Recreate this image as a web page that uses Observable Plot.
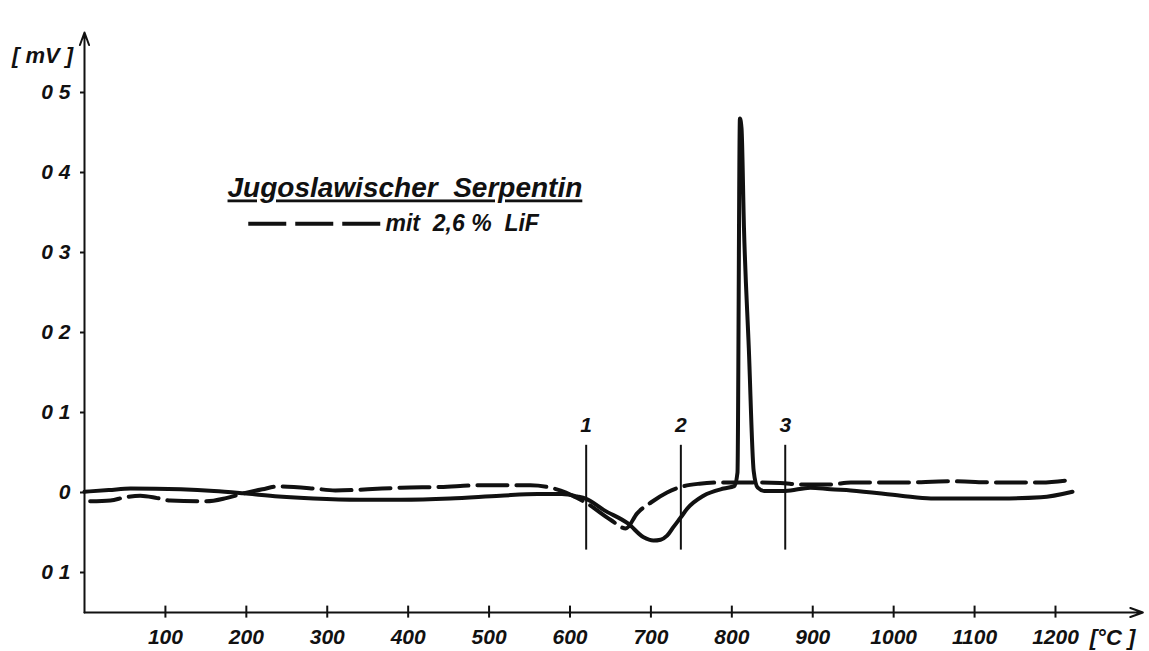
<!DOCTYPE html>
<html><head><meta charset="utf-8">
<script src="https://cdn.jsdelivr.net/npm/d3@7"></script>
<script src="https://cdn.jsdelivr.net/npm/@observablehq/plot@0.6"></script>
<style>
body{margin:0;background:#fff;}
.ul text{text-decoration:underline;}
</style></head><body><div id="chart"></div>
<script>
// Solid curve (Serpentin), temperature °C and mV
const solidT  = [0,30,57,119,160,197,240,283,340,391,452,514,560,590,609,620,642,672,691,703,712,720,728,737,745,765,790,803,807,810,812,815,821,827,832,840,866,897,922,947,1009,1046,1132,1182,1221];
const solidMV = [0.001,0.003,0.005,0.004,0.002,-0.001,-0.005,-0.0075,-0.009,-0.009,-0.0075,-0.004,-0.002,-0.002,-0.005,-0.008,-0.022,-0.039,-0.056,-0.06,-0.059,-0.054,-0.043,-0.031,-0.02,-0.004,0.005,0.008,0.025,0.4675,0.455,0.331,0.18,0.027,0.006,0.002,0.002,0.006,0.004,0.0025,-0.004,-0.0075,-0.0075,-0.006,0.001];
// Dashed curve (mit 2,6 % LiF)
const dashT  = [7,32,50,69,90,106,150,175,197,220,239,283,310,350,391,440,489,551,576,595,607,620,650,669,683,700,720,737,760,786,823,860,885,922,947,1009,1070,1132,1182,1221];
const dashMV = [-0.011,-0.01,-0.006,-0.004,-0.007,-0.01,-0.011,-0.007,-0.001,0.004,0.0075,0.005,0.0025,0.004,0.006,0.007,0.009,0.009,0.006,0,-0.006,-0.013,-0.034,-0.045,-0.026,-0.0125,0,0.007,0.011,0.0125,0.0125,0.012,0.01,0.01,0.0125,0.0125,0.014,0.0125,0.0125,0.016];

const xTicks = [100,200,300,400,500,600,700,800,900,1000,1100,1200];
const yTicks = [0.5,0.4,0.3,0.2,0.1,0,-0.1];
const yTickLabels = ["0 5","0 4","0 3","0 2","0 1","0","0 1"];
const markerT = [620,737,866];
const markerLabels = ["1","2","3"];
const titleText = "Jugoslawischer  Serpentin";
const legendText = "mit  2,6 %  LiF";
const yUnit = "[ mV ]";
const xUnit = "[°C ]";

const solid = solidT.map((t,i)=>({t, v: solidMV[i]}));
const dashed = dashT.map((t,i)=>({t, v: dashMV[i]}));
const markers = markerT.map((t,i)=>({t, label: markerLabels[i]}));

const ink = "#111";
const chart = Plot.plot({
  width: 1149, height: 651,
  marginLeft: 84, marginRight: 5, marginTop: 12, marginBottom: 39,
  x: {domain: [0, 1310]},
  y: {domain: [-0.15, 0.6]},
  style: {fontFamily: "Liberation Sans", fontStyle: "italic", fontWeight: "bold", fontSize: "21px", color: ink, background: "#fff"},
  marks: [
    Plot.axisY({ticks: yTicks, tickFormat: d => yTickLabels[yTicks.indexOf(d)], tickSize: 4, tickPadding: 10, strokeWidth: 2, label: null}),
    Plot.axisX({ticks: xTicks, tickFormat: d => String(d), tickSize: 0, tickPadding: 17, label: null}),
    Plot.ruleX(xTicks, {y1: -0.157, y2: -0.142, stroke: ink, strokeWidth: 2}),
    Plot.arrow([0], {x1: 0, y1: -0.15, x2: 0, y2: 0.575, stroke: ink, strokeWidth: 2, headLength: 10, headAngle: 40}),
    Plot.arrow([0], {x1: 0, y1: -0.15, x2: 1308, y2: -0.15, stroke: ink, strokeWidth: 2, headLength: 10, headAngle: 40}),
    Plot.ruleX(markers, {x: "t", y1: -0.072, y2: 0.059, stroke: ink, strokeWidth: 2}),
    Plot.text(markers, {x: "t", y: 0.084, text: "label", fill: ink}),
    Plot.line(dashed, {x: "t", y: "v", stroke: ink, strokeWidth: 4, strokeDasharray: "30,9", curve: "monotone-x"}),
    Plot.line(solid, {x: "t", y: "v", stroke: ink, strokeWidth: 4, curve: "monotone-x"}),
    Plot.text([titleText], {x: 396, y: 0.38, text: d => d, fontSize: 28, fill: ink, className: "ul"}),
    Plot.ruleY([0.336], {x1: 203, x2: 369, stroke: ink, strokeWidth: 4, strokeDasharray: "38,9"}),
    Plot.text([legendText], {x: 372, y: 0.336, text: d => d, textAnchor: "start", fontSize: 23, fill: ink}),
    Plot.text([yUnit], {frameAnchor: "top-left", dx: -42, dy: 43, textAnchor: "middle", lineAnchor: "middle", fontSize: 22, text: d => d, fill: ink}),
    Plot.text([xUnit], {frameAnchor: "bottom-right", dx: -32, dy: 25, textAnchor: "middle", lineAnchor: "middle", fontSize: 22, text: d => d, fill: ink})
  ]
});
document.getElementById("chart").append(chart);
</script></body></html>
